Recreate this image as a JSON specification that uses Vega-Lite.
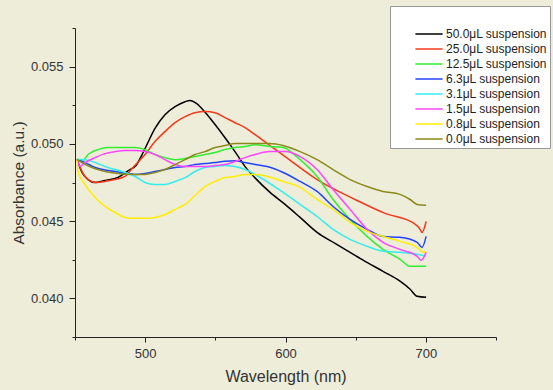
{
  "$schema": "https://vega.github.io/schema/vega-lite/v6.json",
  "width": 421,
  "height": 309,
  "autosize": {"type": "none"},
  "padding": {"left": 75, "top": 28, "right": 57, "bottom": 53},
  "background": "#eeedda",
  "config": {"view": {"stroke": null}, "font": "Liberation Sans"},
  "datasets": {
    "pts": [
      {"s":"50.0μL suspension","w":451.4,"a":0.0490},{"s":"50.0μL suspension","w":455.0,"a":0.04815},{"s":"50.0μL suspension","w":459.3,"a":0.04769},{"s":"50.0μL suspension","w":464.3,"a":0.0475},{"s":"50.0μL suspension","w":471.4,"a":0.04763},{"s":"50.0μL suspension","w":480.6,"a":0.04782},{"s":"50.0μL suspension","w":489.2,"a":0.04834},{"s":"50.0μL suspension","w":492.8,"a":0.04853},{"s":"50.0μL suspension","w":499.9,"a":0.0497},{"s":"50.0μL suspension","w":507.0,"a":0.051},{"s":"50.0μL suspension","w":514.1,"a":0.05189},{"s":"50.0μL suspension","w":521.3,"a":0.05241},{"s":"50.0μL suspension","w":528.4,"a":0.05273},{"s":"50.0μL suspension","w":532.0,"a":0.0528},{"s":"50.0μL suspension","w":536.5,"a":0.05262},{"s":"50.0μL suspension","w":542.7,"a":0.05205},{"s":"50.0μL suspension","w":549.8,"a":0.05125},{"s":"50.0μL suspension","w":556.9,"a":0.0504},{"s":"50.0μL suspension","w":564.0,"a":0.0495},{"s":"50.0μL suspension","w":571.2,"a":0.04853},{"s":"50.0μL suspension","w":578.3,"a":0.0478},{"s":"50.0μL suspension","w":589.0,"a":0.04686},{"s":"50.0μL suspension","w":599.7,"a":0.04608},{"s":"50.0μL suspension","w":610.4,"a":0.04524},{"s":"50.0μL suspension","w":622.5,"a":0.04427},{"s":"50.0μL suspension","w":635.3,"a":0.04356},{"s":"50.0μL suspension","w":646.0,"a":0.04298},{"s":"50.0μL suspension","w":656.7,"a":0.0424},{"s":"50.0μL suspension","w":669.5,"a":0.04175},{"s":"50.0μL suspension","w":681.6,"a":0.04111},{"s":"50.0μL suspension","w":688.8,"a":0.04059},{"s":"50.0μL suspension","w":693.8,"a":0.04014},{"s":"50.0μL suspension","w":700.2,"a":0.04007},
      {"s":"25.0μL suspension","w":451.4,"a":0.0490},{"s":"25.0μL suspension","w":455.0,"a":0.04821},{"s":"25.0μL suspension","w":459.3,"a":0.04769},{"s":"25.0μL suspension","w":465.7,"a":0.0475},{"s":"25.0μL suspension","w":471.4,"a":0.04757},{"s":"25.0μL suspension","w":478.5,"a":0.04769},{"s":"25.0μL suspension","w":485.6,"a":0.04789},{"s":"25.0μL suspension","w":491.3,"a":0.04847},{"s":"25.0μL suspension","w":499.9,"a":0.04931},{"s":"25.0μL suspension","w":507.0,"a":0.05015},{"s":"25.0μL suspension","w":514.1,"a":0.05079},{"s":"25.0μL suspension","w":521.3,"a":0.05137},{"s":"25.0μL suspension","w":528.4,"a":0.05176},{"s":"25.0μL suspension","w":535.5,"a":0.05202},{"s":"25.0μL suspension","w":542.7,"a":0.05209},{"s":"25.0μL suspension","w":549.8,"a":0.05202},{"s":"25.0μL suspension","w":556.9,"a":0.0517},{"s":"25.0μL suspension","w":564.0,"a":0.05137},{"s":"25.0μL suspension","w":571.2,"a":0.05105},{"s":"25.0μL suspension","w":578.3,"a":0.0506},{"s":"25.0μL suspension","w":589.0,"a":0.04989},{"s":"25.0μL suspension","w":599.7,"a":0.04918},{"s":"25.0μL suspension","w":624.6,"a":0.04757},{"s":"25.0μL suspension","w":649.6,"a":0.0464},{"s":"25.0μL suspension","w":671.0,"a":0.0455},{"s":"25.0μL suspension","w":691.6,"a":0.04485},{"s":"25.0μL suspension","w":695.9,"a":0.04447},{"s":"25.0μL suspension","w":697.3,"a":0.04427},{"s":"25.0μL suspension","w":700.2,"a":0.04498},
      {"s":"12.5μL suspension","w":451.4,"a":0.0490},{"s":"12.5μL suspension","w":455.0,"a":0.04886},{"s":"12.5μL suspension","w":459.3,"a":0.04931},{"s":"12.5μL suspension","w":466.4,"a":0.04963},{"s":"12.5μL suspension","w":473.5,"a":0.04976},{"s":"12.5μL suspension","w":483.5,"a":0.04976},{"s":"12.5μL suspension","w":492.8,"a":0.04976},{"s":"12.5μL suspension","w":499.9,"a":0.04963},{"s":"12.5μL suspension","w":507.0,"a":0.04931},{"s":"12.5μL suspension","w":514.1,"a":0.04911},{"s":"12.5μL suspension","w":521.3,"a":0.04898},{"s":"12.5μL suspension","w":528.4,"a":0.04905},{"s":"12.5μL suspension","w":535.5,"a":0.04918},{"s":"12.5μL suspension","w":542.7,"a":0.04931},{"s":"12.5μL suspension","w":549.8,"a":0.04944},{"s":"12.5μL suspension","w":556.9,"a":0.04963},{"s":"12.5μL suspension","w":564.0,"a":0.04976},{"s":"12.5μL suspension","w":571.2,"a":0.04983},{"s":"12.5μL suspension","w":578.3,"a":0.04995},{"s":"12.5μL suspension","w":589.0,"a":0.04983},{"s":"12.5μL suspension","w":598.3,"a":0.04976},{"s":"12.5μL suspension","w":610.4,"a":0.04898},{"s":"12.5μL suspension","w":622.5,"a":0.04789},{"s":"12.5μL suspension","w":633.9,"a":0.0464},{"s":"12.5μL suspension","w":646.0,"a":0.04511},{"s":"12.5μL suspension","w":658.1,"a":0.04401},{"s":"12.5μL suspension","w":669.5,"a":0.04317},{"s":"12.5μL suspension","w":681.6,"a":0.04253},{"s":"12.5μL suspension","w":688.8,"a":0.04208},{"s":"12.5μL suspension","w":700.2,"a":0.04208},
      {"s":"6.3μL suspension","w":451.4,"a":0.0490},{"s":"6.3μL suspension","w":457.1,"a":0.04879},{"s":"6.3μL suspension","w":464.3,"a":0.04847},{"s":"6.3μL suspension","w":473.5,"a":0.04828},{"s":"6.3μL suspension","w":483.5,"a":0.04815},{"s":"6.3μL suspension","w":492.8,"a":0.04802},{"s":"6.3μL suspension","w":499.9,"a":0.04808},{"s":"6.3μL suspension","w":507.0,"a":0.04821},{"s":"6.3μL suspension","w":514.1,"a":0.04834},{"s":"6.3μL suspension","w":521.3,"a":0.04847},{"s":"6.3μL suspension","w":528.4,"a":0.04853},{"s":"6.3μL suspension","w":535.5,"a":0.04866},{"s":"6.3μL suspension","w":542.7,"a":0.04873},{"s":"6.3μL suspension","w":549.8,"a":0.04879},{"s":"6.3μL suspension","w":556.9,"a":0.04888},{"s":"6.3μL suspension","w":564.0,"a":0.0489},{"s":"6.3μL suspension","w":571.2,"a":0.04879},{"s":"6.3μL suspension","w":578.3,"a":0.04866},{"s":"6.3μL suspension","w":587.0,"a":0.04853},{"s":"6.3μL suspension","w":598.3,"a":0.04815},{"s":"6.3μL suspension","w":610.4,"a":0.04757},{"s":"6.3μL suspension","w":622.5,"a":0.04692},{"s":"6.3μL suspension","w":633.9,"a":0.04595},{"s":"6.3μL suspension","w":646.0,"a":0.04511},{"s":"6.3μL suspension","w":658.1,"a":0.04447},{"s":"6.3μL suspension","w":669.5,"a":0.04401},{"s":"6.3μL suspension","w":681.6,"a":0.04395},{"s":"6.3μL suspension","w":693.8,"a":0.04363},{"s":"6.3μL suspension","w":697.3,"a":0.0433},{"s":"6.3μL suspension","w":700.2,"a":0.04401},
      {"s":"3.1μL suspension","w":451.4,"a":0.0490},{"s":"3.1μL suspension","w":457.1,"a":0.04898},{"s":"3.1μL suspension","w":464.3,"a":0.04879},{"s":"3.1μL suspension","w":473.5,"a":0.04847},{"s":"3.1μL suspension","w":483.5,"a":0.04821},{"s":"3.1μL suspension","w":492.8,"a":0.04789},{"s":"3.1μL suspension","w":499.9,"a":0.0475},{"s":"3.1μL suspension","w":507.0,"a":0.04737},{"s":"3.1μL suspension","w":514.1,"a":0.04737},{"s":"3.1μL suspension","w":521.3,"a":0.04757},{"s":"3.1μL suspension","w":528.4,"a":0.04782},{"s":"3.1μL suspension","w":535.5,"a":0.04821},{"s":"3.1μL suspension","w":542.7,"a":0.04847},{"s":"3.1μL suspension","w":549.8,"a":0.04853},{"s":"3.1μL suspension","w":556.9,"a":0.0486},{"s":"3.1μL suspension","w":564.0,"a":0.04853},{"s":"3.1μL suspension","w":571.2,"a":0.04834},{"s":"3.1μL suspension","w":578.3,"a":0.04802},{"s":"3.1μL suspension","w":598.3,"a":0.04686},{"s":"3.1μL suspension","w":610.4,"a":0.04608},{"s":"3.1μL suspension","w":622.5,"a":0.0453},{"s":"3.1μL suspension","w":633.9,"a":0.04447},{"s":"3.1μL suspension","w":646.0,"a":0.04382},{"s":"3.1μL suspension","w":658.1,"a":0.04337},{"s":"3.1μL suspension","w":669.5,"a":0.04305},{"s":"3.1μL suspension","w":681.6,"a":0.04298},{"s":"3.1μL suspension","w":693.8,"a":0.04285},{"s":"3.1μL suspension","w":700.2,"a":0.04272},
      {"s":"1.5μL suspension","w":451.4,"a":0.0490},{"s":"1.5μL suspension","w":453.6,"a":0.04853},{"s":"1.5μL suspension","w":457.1,"a":0.04879},{"s":"1.5μL suspension","w":464.3,"a":0.04911},{"s":"1.5μL suspension","w":471.4,"a":0.04937},{"s":"1.5μL suspension","w":478.5,"a":0.0495},{"s":"1.5μL suspension","w":485.6,"a":0.04957},{"s":"1.5μL suspension","w":492.8,"a":0.04957},{"s":"1.5μL suspension","w":499.9,"a":0.0495},{"s":"1.5μL suspension","w":507.0,"a":0.04931},{"s":"1.5μL suspension","w":514.1,"a":0.04898},{"s":"1.5μL suspension","w":521.3,"a":0.04866},{"s":"1.5μL suspension","w":528.4,"a":0.04853},{"s":"1.5μL suspension","w":535.5,"a":0.04853},{"s":"1.5μL suspension","w":542.7,"a":0.04853},{"s":"1.5μL suspension","w":549.8,"a":0.0486},{"s":"1.5μL suspension","w":556.9,"a":0.04866},{"s":"1.5μL suspension","w":564.0,"a":0.04886},{"s":"1.5μL suspension","w":571.2,"a":0.04911},{"s":"1.5μL suspension","w":578.3,"a":0.04931},{"s":"1.5μL suspension","w":589.0,"a":0.0495},{"s":"1.5μL suspension","w":599.7,"a":0.0495},{"s":"1.5μL suspension","w":610.4,"a":0.04918},{"s":"1.5μL suspension","w":622.5,"a":0.04834},{"s":"1.5μL suspension","w":633.9,"a":0.04705},{"s":"1.5μL suspension","w":646.0,"a":0.04576},{"s":"1.5μL suspension","w":658.1,"a":0.04447},{"s":"1.5μL suspension","w":669.5,"a":0.04363},{"s":"1.5μL suspension","w":681.6,"a":0.04317},{"s":"1.5μL suspension","w":693.8,"a":0.04272},{"s":"1.5μL suspension","w":696.6,"a":0.04246},{"s":"1.5μL suspension","w":700.2,"a":0.04298},
      {"s":"0.8μL suspension","w":451.4,"a":0.0490},{"s":"0.8μL suspension","w":452.1,"a":0.04821},{"s":"0.8μL suspension","w":457.1,"a":0.04737},{"s":"0.8μL suspension","w":464.3,"a":0.04653},{"s":"0.8μL suspension","w":471.4,"a":0.04595},{"s":"0.8μL suspension","w":478.5,"a":0.04556},{"s":"0.8μL suspension","w":485.6,"a":0.04524},{"s":"0.8μL suspension","w":492.8,"a":0.04518},{"s":"0.8μL suspension","w":499.9,"a":0.04518},{"s":"0.8μL suspension","w":507.0,"a":0.04524},{"s":"0.8μL suspension","w":514.1,"a":0.04543},{"s":"0.8μL suspension","w":521.3,"a":0.04576},{"s":"0.8μL suspension","w":528.4,"a":0.04608},{"s":"0.8μL suspension","w":535.5,"a":0.04666},{"s":"0.8μL suspension","w":542.7,"a":0.04724},{"s":"0.8μL suspension","w":549.8,"a":0.04757},{"s":"0.8μL suspension","w":556.9,"a":0.04782},{"s":"0.8μL suspension","w":564.0,"a":0.04789},{"s":"0.8μL suspension","w":571.2,"a":0.04802},{"s":"0.8μL suspension","w":578.3,"a":0.04802},{"s":"0.8μL suspension","w":598.3,"a":0.04757},{"s":"0.8μL suspension","w":610.4,"a":0.04718},{"s":"0.8μL suspension","w":622.5,"a":0.0464},{"s":"0.8μL suspension","w":633.9,"a":0.04576},{"s":"0.8μL suspension","w":646.0,"a":0.04492},{"s":"0.8μL suspension","w":658.1,"a":0.04434},{"s":"0.8μL suspension","w":669.5,"a":0.04401},{"s":"0.8μL suspension","w":681.6,"a":0.04369},{"s":"0.8μL suspension","w":693.8,"a":0.0433},{"s":"0.8μL suspension","w":698.0,"a":0.04298},{"s":"0.8μL suspension","w":700.2,"a":0.04305},
      {"s":"0.0μL suspension","w":451.4,"a":0.0490},{"s":"0.0μL suspension","w":455.0,"a":0.04879},{"s":"0.0μL suspension","w":462.1,"a":0.04847},{"s":"0.0μL suspension","w":471.4,"a":0.04821},{"s":"0.0μL suspension","w":480.6,"a":0.04808},{"s":"0.0μL suspension","w":492.8,"a":0.04802},{"s":"0.0μL suspension","w":499.9,"a":0.04802},{"s":"0.0μL suspension","w":507.0,"a":0.04815},{"s":"0.0μL suspension","w":514.1,"a":0.04834},{"s":"0.0μL suspension","w":521.3,"a":0.04866},{"s":"0.0μL suspension","w":528.4,"a":0.04898},{"s":"0.0μL suspension","w":535.5,"a":0.04931},{"s":"0.0μL suspension","w":542.7,"a":0.0495},{"s":"0.0μL suspension","w":549.8,"a":0.04976},{"s":"0.0μL suspension","w":556.9,"a":0.04989},{"s":"0.0μL suspension","w":564.0,"a":0.05002},{"s":"0.0μL suspension","w":578.3,"a":0.05002},{"s":"0.0μL suspension","w":589.0,"a":0.05002},{"s":"0.0μL suspension","w":598.3,"a":0.04989},{"s":"0.0μL suspension","w":610.4,"a":0.0495},{"s":"0.0μL suspension","w":622.5,"a":0.04898},{"s":"0.0μL suspension","w":633.9,"a":0.04834},{"s":"0.0μL suspension","w":646.0,"a":0.04769},{"s":"0.0μL suspension","w":658.1,"a":0.04724},{"s":"0.0μL suspension","w":669.5,"a":0.04692},{"s":"0.0μL suspension","w":681.6,"a":0.04673},{"s":"0.0μL suspension","w":688.8,"a":0.0464},{"s":"0.0μL suspension","w":693.8,"a":0.04608},{"s":"0.0μL suspension","w":700.2,"a":0.04602}
    ]
  },
  "data": {"name": "pts"},
  "mark": {"type": "line", "strokeWidth": 1.5, "interpolate": "monotone"},
  "encoding": {
    "x": {
      "field": "w", "type": "quantitative",
      "scale": {"domain": [450, 750], "nice": false, "zero": false},
      "axis": {
        "title": "Wavelength (nm)",
        "values": [450, 500, 550, 600, 650, 700, 750],
        "labelExpr": "datum.value % 100 == 0 ? datum.label : ''",
        "tickSize": {"condition": {"test": "datum.value % 100 == 0", "value": 5}, "value": 3},
        "grid": false,
        "domainColor": "#222222", "tickColor": "#222222",
        "labelFontSize": 13, "labelColor": "#333333", "labelPadding": 5, "labelFlush": false,
        "titleFontSize": 16, "titleFontWeight": "normal", "titleColor": "#333333", "titlePadding": 8
      }
    },
    "y": {
      "field": "a", "type": "quantitative",
      "scale": {"domain": [0.0375, 0.0575], "nice": false, "zero": false},
      "axis": {
        "title": "Absorbance (a.u.)",
        "values": [0.0375, 0.04, 0.0425, 0.045, 0.0475, 0.05, 0.0525, 0.055, 0.0575],
        "labelExpr": "abs(datum.value*200 - round(datum.value*200)) < 0.01 ? format(datum.value, '.3f') : ''",
        "tickSize": {"condition": {"test": "abs(datum.value*200 - round(datum.value*200)) < 0.01", "value": 6}, "value": 3},
        "grid": false,
        "domainColor": "#222222", "tickColor": "#222222",
        "labelFontSize": 13, "labelColor": "#333333", "labelPadding": 6, "labelFlush": false,
        "titleFontSize": 15.5, "titleFontWeight": "normal", "titleColor": "#333333", "titlePadding": 4
      }
    },
    "color": {
      "field": "s", "type": "nominal",
      "scale": {
        "domain": ["50.0μL suspension", "25.0μL suspension", "12.5μL suspension", "6.3μL suspension", "3.1μL suspension", "1.5μL suspension", "0.8μL suspension", "0.0μL suspension"],
        "range": ["#000000", "#f5391a", "#33ee33", "#2244ff", "#33eeee", "#ff44ff", "#ffee00", "#8a8a1a"]
      },
      "legend": {
        "orient": "none", "legendX": 315, "legendY": -22,
        "title": " ", "titleFontSize": 8, "titlePadding": 8,
        "symbolType": "M-1.7,0H1.7", "symbolSize": 256, "symbolStrokeWidth": 1.5, "symbolOffset": 27,
        "labelOffset": 8, "labelFontSize": 12, "labelColor": "#222222", "labelLimit": 300,
        "rowPadding": 0, "padding": 3,
        "fillColor": "#ffffff", "strokeColor": "#999999"
      }
    }
  }
}
